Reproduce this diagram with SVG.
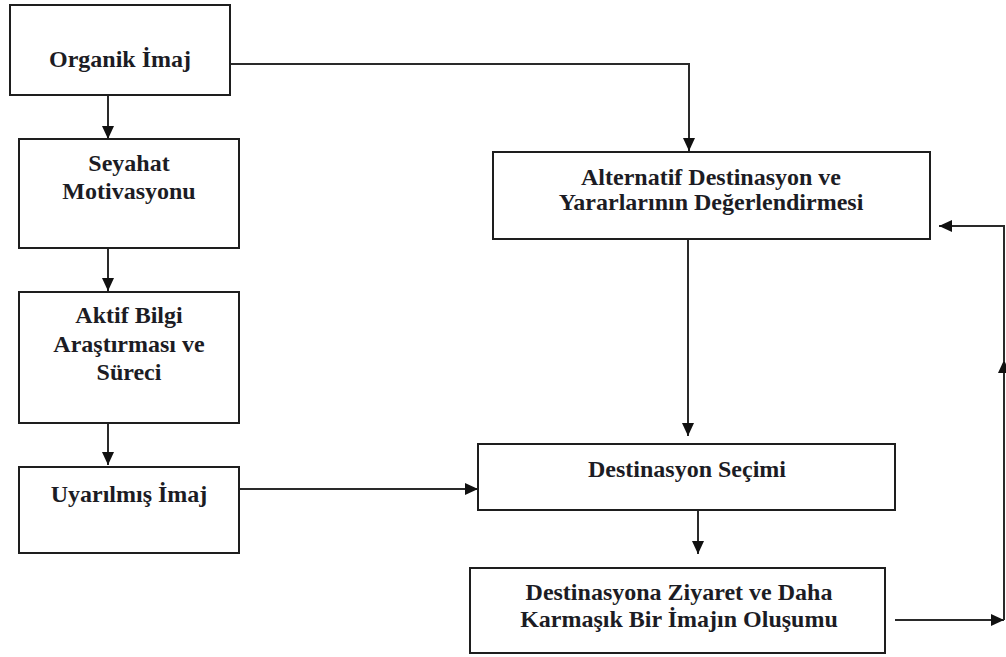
<svg xmlns="http://www.w3.org/2000/svg" width="1006" height="657" viewBox="0 0 1006 657">
<style>
.box{fill:#ffffff;stroke:#1e1e1e;stroke-width:2}
.lbl{font-family:"Liberation Serif","Times New Roman",serif;font-weight:bold;font-size:24px;fill:#1c1c24;text-anchor:middle}
.con{fill:none;stroke:#2a2a2a;stroke-width:2}
</style>
<defs>
<marker id="arr" markerUnits="userSpaceOnUse" markerWidth="13" markerHeight="12" refX="13" refY="6" orient="auto">
<path d="M0,0 L13,6 L0,12 Z" fill="#111111"/>
</marker>
</defs>
<rect width="1006" height="657" fill="#ffffff"/>
<g id="connectors">
<path class="con" d="M108,95 V139" marker-end="url(#arr)"/>
<path class="con" d="M108,248 V291" marker-end="url(#arr)"/>
<path class="con" d="M108,423 V465" marker-end="url(#arr)"/>
<path class="con" d="M239,489 H478" marker-end="url(#arr)"/>
<path class="con" d="M231,64 H689 V151" marker-end="url(#arr)"/>
<path class="con" d="M688,240 V436" marker-end="url(#arr)"/>
<path class="con" d="M698,511 V554" marker-end="url(#arr)"/>
<path class="con" d="M895,620 H1004" marker-end="url(#arr)"/>
<path class="con" d="M1004,620 V360" marker-end="url(#arr)"/>
<path class="con" d="M1004,362 V226 H939" marker-end="url(#arr)"/>
</g>
<g id="n1">
<rect class="box" x="10" y="5" width="220" height="90"/>
<text class="lbl" x="120" y="67">Organik İmaj</text>
</g>
<g id="n2">
<rect class="box" x="19" y="139" width="220" height="109"/>
<text class="lbl" x="129" y="171">Seyahat</text>
<text class="lbl" x="129" y="199">Motivasyonu</text>
</g>
<g id="n3">
<rect class="box" x="19" y="292" width="220" height="131"/>
<text class="lbl" x="129" y="323">Aktif Bilgi</text>
<text class="lbl" x="129" y="352">Araştırması ve</text>
<text class="lbl" x="129" y="380">Süreci</text>
</g>
<g id="n4">
<rect class="box" x="19" y="467" width="220" height="86"/>
<text class="lbl" x="129" y="502">Uyarılmış İmaj</text>
</g>
<g id="n5">
<rect class="box" x="493" y="152" width="437" height="87"/>
<text class="lbl" x="711" y="185">Alternatif Destinasyon ve</text>
<text class="lbl" x="711" y="210">Yararlarının Değerlendirmesi</text>
</g>
<g id="n6">
<rect class="box" x="478" y="444" width="417" height="66"/>
<text class="lbl" x="687" y="477">Destinasyon Seçimi</text>
</g>
<g id="n7">
<rect class="box" x="470" y="568" width="415" height="85"/>
<text class="lbl" x="679" y="600">Destinasyona Ziyaret ve Daha</text>
<text class="lbl" x="679" y="627">Karmaşık Bir İmajın Oluşumu</text>
</g>
</svg>
